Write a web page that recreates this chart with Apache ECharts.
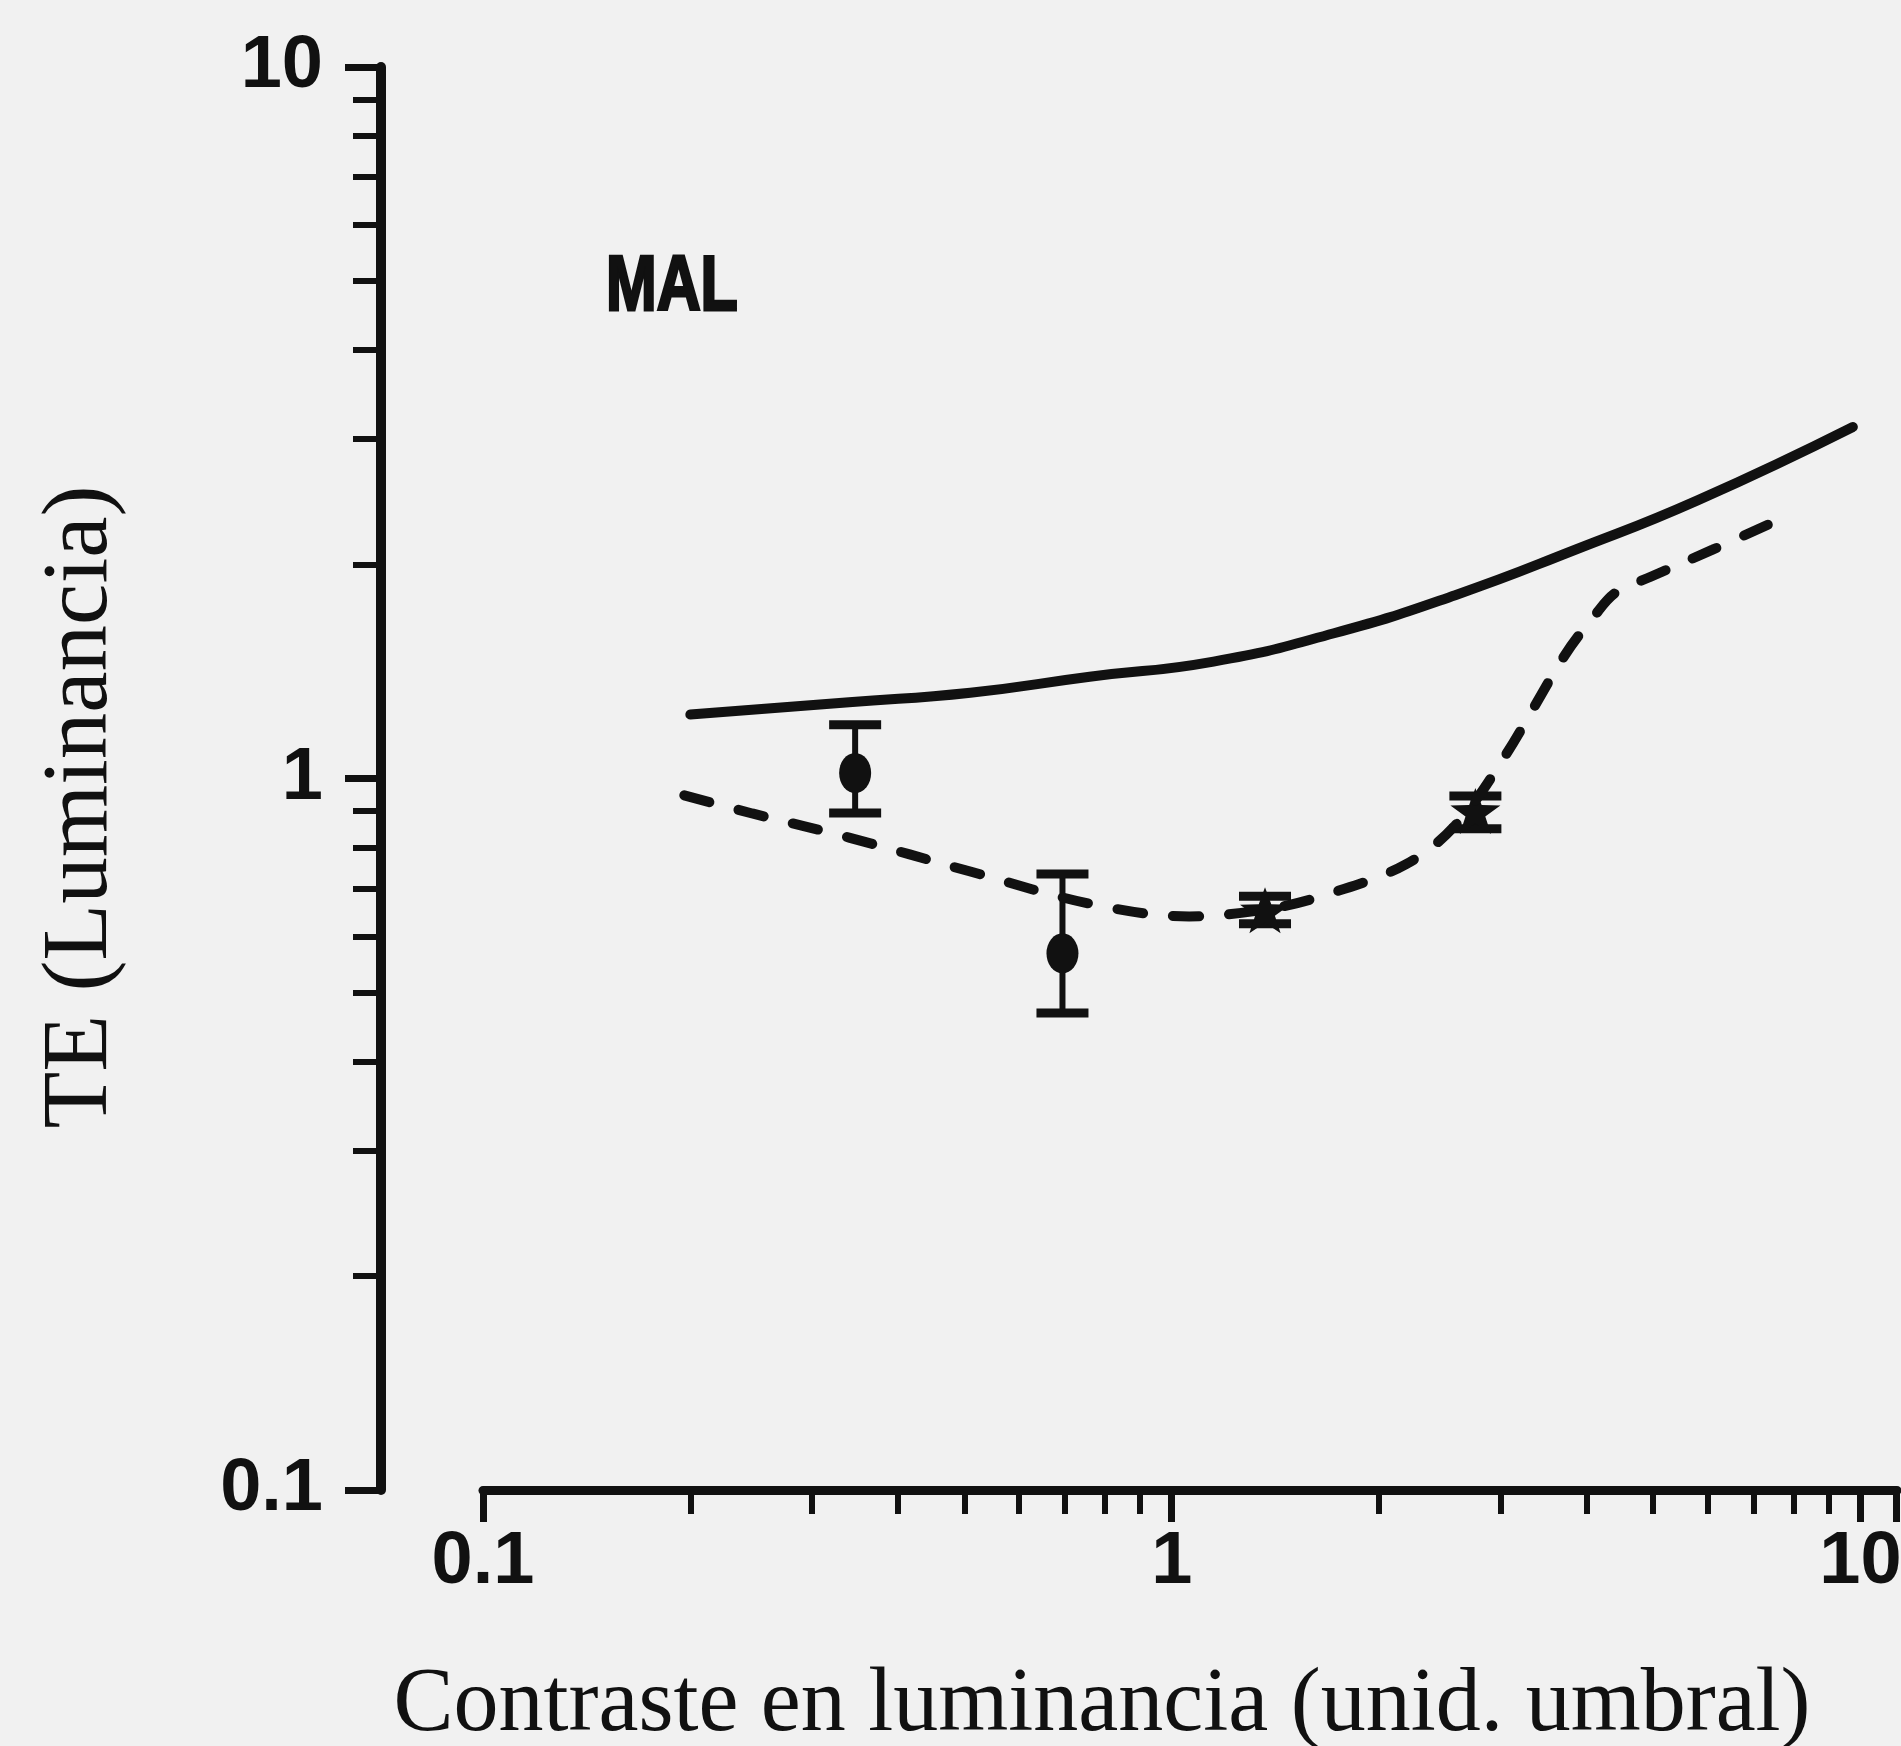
<!DOCTYPE html>
<html>
<head>
<meta charset="utf-8">
<script src="https://cdn.jsdelivr.net/npm/echarts@6/dist/echarts.min.js"></script>
<style>
  html, body { margin: 0; padding: 0; background: #f1f1f1; }
  #chart { width: 1901px; height: 1746px; }
</style>
</head>
<body>
<div id="chart"></div>
<script>
// ---- data ----
const solidX = [0.2, 0.34, 0.51, 0.76, 1.15, 1.72, 2.58, 3.87, 5.8, 9.75];
const solidY = [1.23, 1.28, 1.32, 1.39, 1.46, 1.60, 1.81, 2.10, 2.46, 3.12];

const dashX = [0.196, 0.246, 0.34, 0.51, 0.765, 1.06, 1.40, 1.72, 2.19, 2.58, 3.03, 3.72, 4.11, 4.41, 4.96, 6.10, 7.96];
const dashY = [0.947, 0.893, 0.826, 0.740, 0.666, 0.640, 0.657, 0.692, 0.758, 0.859, 1.066, 1.489, 1.693, 1.824, 1.921, 2.097, 2.357];

const circX  = [0.347, 0.694];
const circY  = [1.018, 0.568];
const circLo = [0.894, 0.468];
const circHi = [1.19, 0.734];

const starX  = [1.366, 2.76];
const starY  = [0.653, 0.90];
const starLo = [0.625, 0.85];
const starHi = [0.683, 0.945];

const majorTicksX = [0.1000001, 1, 10, 11.29];
const minorTicksX = [0.2, 0.3, 0.4, 0.5, 0.6, 0.7, 0.8, 0.9, 2, 3, 4, 5, 6, 7, 8, 9];
const majorTicksY = [0.1000001, 1, 9.99999];
const minorTicksY = [0.2, 0.3, 0.4, 0.5, 0.6, 0.7, 0.8, 0.9, 2, 3, 4, 5, 6, 7, 8, 9];

const xTitle = 'Contraste en luminancia (unid. umbral)';
const yTitle = 'TE (Luminancia)';
const panelLabel = 'MAL';

// ---- chart ----
const INK = '#111111';
const tickFont = "'Liberation Sans Narrow', 'Liberation Sans', Arial, sans-serif";
const serif = "'Liberation Serif', 'Times New Roman', serif";

const zip = (a, b) => a.map((v, i) => [v, b[i]]);
const errData = circX.map((x, i) => [x, circLo[i], circHi[i]])
  .concat(starX.map((x, i) => [x, starLo[i], starHi[i]]));

const chart = echarts.init(document.getElementById('chart'), null, { renderer: 'canvas' });

const baseX = { type: 'log', logBase: 10, min: 0.1, max: 11.3, position: 'bottom', splitLine: { show: false } };
const baseY = { type: 'log', logBase: 10, min: 0.1, max: 10, position: 'left', offset: 102, splitLine: { show: false } };

chart.setOption({
  animation: false,
  backgroundColor: '#f1f1f1',
  grid: { left: 483, right: 4, top: 67, bottom: 256, outerBoundsMode: 'none', containLabel: false },
  xAxis: [
    Object.assign({}, baseX, {
      axisLine: { show: true, lineStyle: { color: INK, width: 9 } },
      axisTick: { show: true, inside: false, length: 32, customValues: majorTicksX, lineStyle: { color: INK, width: 7 } },
      axisLabel: { show: true, margin: 36, color: INK, fontFamily: tickFont, fontWeight: 'bold', fontSize: 74 }
    }),
    Object.assign({}, baseX, {
      axisLine: { show: false },
      axisTick: { show: true, inside: false, length: 24, customValues: minorTicksX, lineStyle: { color: INK, width: 6 } },
      axisLabel: { show: false }
    })
  ],
  yAxis: [
    Object.assign({}, baseY, {
      axisLine: { show: true, lineStyle: { color: INK, width: 10 } },
      axisTick: { show: true, inside: false, length: 36, customValues: majorTicksY, lineStyle: { color: INK, width: 7 } },
      axisLabel: { show: true, margin: 58, color: INK, fontFamily: tickFont, fontWeight: 'bold', fontSize: 74, padding: [18, 0, 0, 0] }
    }),
    Object.assign({}, baseY, {
      axisLine: { show: false },
      axisTick: { show: true, inside: false, length: 28, customValues: minorTicksY, lineStyle: { color: INK, width: 6 } },
      axisLabel: { show: false }
    })
  ],
  graphic: [
    { type: 'text', x: 82, y: 807, rotation: Math.PI / 2,
      style: { text: yTitle, font: '93px ' + serif, fill: INK, align: 'center', verticalAlign: 'middle' } },
    { type: 'text', x: 1102, y: 1706,
      style: { text: xTitle, font: '90px ' + serif, fill: INK, align: 'center', verticalAlign: 'middle' } },
    { type: 'text', x: 606, y: 288, scaleX: 0.78,
      style: { text: panelLabel, font: 'bold 78px ' + tickFont, fill: INK, stroke: INK, lineWidth: 3,
               align: 'left', verticalAlign: 'middle' } }
  ],
  series: [
    {
      name: 'solid', type: 'line', xAxisIndex: 0, yAxisIndex: 0,
      data: zip(solidX, solidY), smooth: true, showSymbol: false, symbol: 'none',
      lineStyle: { color: INK, width: 10, cap: 'round' }
    },
    {
      name: 'dashed', type: 'line', xAxisIndex: 0, yAxisIndex: 0,
      data: zip(dashX, dashY), smooth: 0.35, showSymbol: false, symbol: 'none',
      lineStyle: { color: INK, width: 10, type: [26, 30], cap: 'round' }
    },
    {
      name: 'errors', type: 'custom', xAxisIndex: 0, yAxisIndex: 0,
      data: errData, encode: { x: 0, y: [1, 2] },
      renderItem: function (params, api) {
        const x = api.value(0);
        const pLo = api.coord([x, api.value(1)]);
        const pHi = api.coord([x, api.value(2)]);
        const hw = 26;
        return {
          type: 'group',
          children: [
            { type: 'line', shape: { x1: pLo[0], y1: pLo[1], x2: pHi[0], y2: pHi[1] }, style: { stroke: INK, lineWidth: 6 } },
            { type: 'line', shape: { x1: pHi[0] - hw, y1: pHi[1], x2: pHi[0] + hw, y2: pHi[1] }, style: { stroke: INK, lineWidth: 9 } },
            { type: 'line', shape: { x1: pLo[0] - hw, y1: pLo[1], x2: pLo[0] + hw, y2: pLo[1] }, style: { stroke: INK, lineWidth: 9 } }
          ]
        };
      }
    },
    {
      name: 'circles', type: 'scatter', xAxisIndex: 0, yAxisIndex: 0,
      data: zip(circX, circY), symbol: 'circle', symbolSize: [32, 40],
      itemStyle: { color: INK, opacity: 1 }
    },
    {
      name: 'stars', type: 'scatter', xAxisIndex: 0, yAxisIndex: 0,
      data: zip(starX, starY),
      symbol: 'path://M50,0 L62,34 L98,35 L69,57 L80,92 L50,71 L20,92 L31,57 L2,35 L38,34 Z',
      symbolSize: [50, 46],
      itemStyle: { color: INK, opacity: 1 }
    }
  ]
});
</script>
</body>
</html>
